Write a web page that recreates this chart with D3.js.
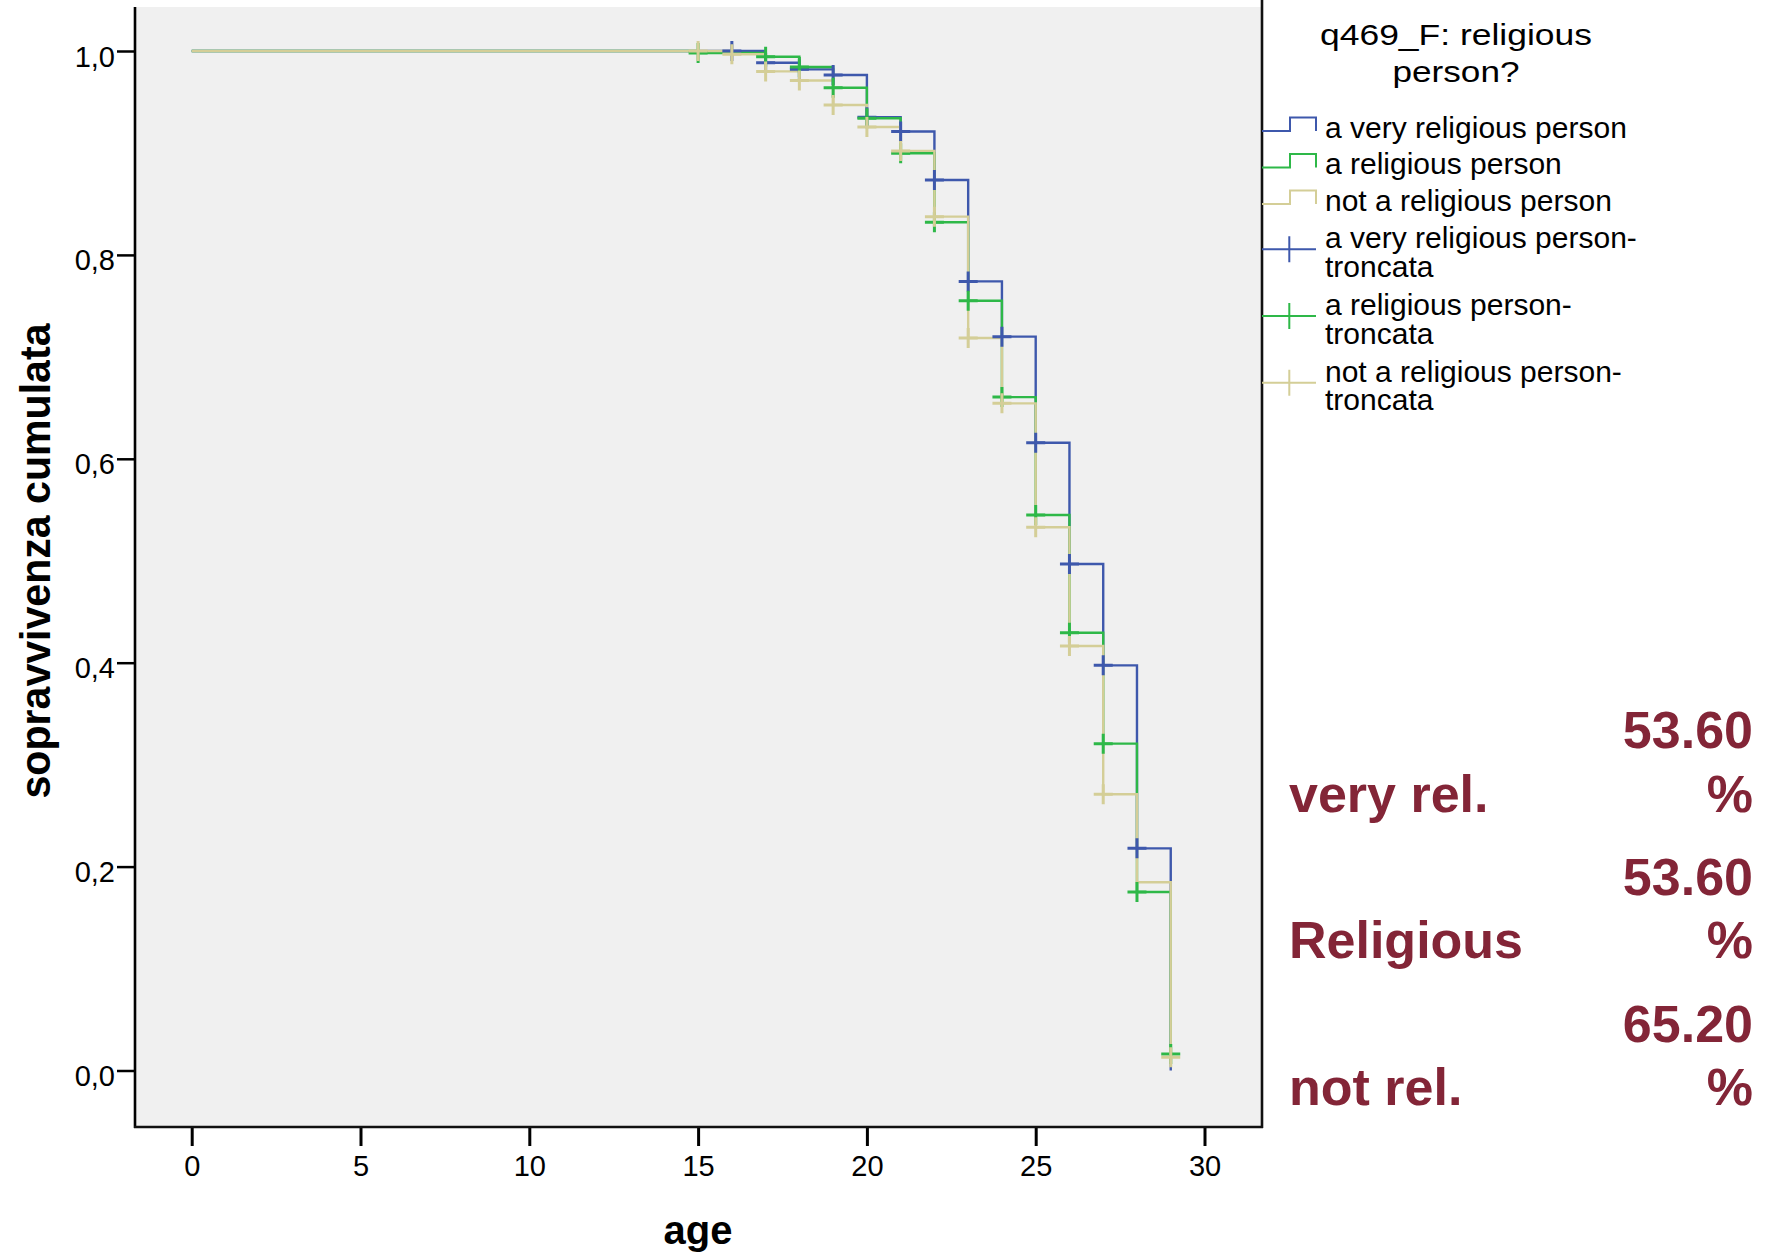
<!DOCTYPE html>
<html>
<head>
<meta charset="utf-8">
<script src="https://cdn.jsdelivr.net/npm/d3@7"></script>
<style>
  html, body { margin: 0; padding: 0; background: #ffffff; }
  svg { display: block; font-family: "Liberation Sans", Arial, Helvetica, sans-serif; }
</style>
</head>
<body>
<svg id="chart" width="1780" height="1254"></svg>
<script>
// Kaplan-Meier survival by religiosity (q469_F)
const ages = [0, 15, 16, 17, 18, 19, 20, 21, 22, 23, 24, 25, 26, 27, 28, 29];
const survVery = [1, 1, 1, 0.9885, 0.982, 0.9765, 0.935, 0.921, 0.8735, 0.774, 0.7198, 0.6158, 0.4968, 0.3974, 0.2179, 0.0];
const survRel  = [1, 0.998, 0.998, 0.9944, 0.9843, 0.964, 0.934, 0.8997, 0.832, 0.755, 0.6605, 0.5449, 0.4294, 0.3206, 0.1751, 0.0162];
const survNot  = [1, 1, 0.9968, 0.980, 0.971, 0.947, 0.9255, 0.902, 0.8375, 0.7185, 0.6544, 0.5328, 0.4164, 0.2709, 0.1846, 0.013];

// ages with censored cases (troncata) for each group
const censVery = [16, 17, 18, 19, 20, 21, 22, 23, 24, 25, 26, 27, 28];
const censRel  = [15, 17, 18, 19, 20, 21, 22, 23, 24, 25, 26, 27, 28, 29];
const censNot  = [15, 16, 17, 18, 19, 20, 21, 22, 23, 24, 25, 26, 27, 29];

const groupNames = ["a very religious person", "a religious person", "not a religious person"];
const groupColors = ["#3E58AC", "#2EB848", "#D4CE97"];
const legendTitle = ["q469_F: religious", "person?"];

const xTicks = [0, 5, 10, 15, 20, 25, 30];
const yTicks = [0, 0.2, 0.4, 0.6, 0.8, 1.0];

const noteLabels = ["very rel.", "Religious", "not rel."];
const notePercents = [53.60, 53.60, 65.20];

const series = [
  { name: groupNames[0], color: groupColors[0], surv: survVery, cens: censVery },
  { name: groupNames[1], color: groupColors[1], surv: survRel,  cens: censRel },
  { name: groupNames[2], color: groupColors[2], surv: survNot,  cens: censNot }
];

const svg = d3.select("#chart");

// plot frame
const frame = { left: 135, right: 1262, top: 7, bottom: 1127 };

const x = d3.scaleLinear().domain([0, 30]).range([191.7, 1204.5]);
const y = d3.scaleLinear().domain([0, 1]).range([1070.5, 51]);

svg.append("rect")
  .attr("x", frame.left).attr("y", frame.top)
  .attr("width", frame.right - frame.left).attr("height", frame.bottom - frame.top)
  .attr("fill", "#F0F0F0");

// step curves
const stepLine = d3.line()
  .x(d => x(d[0]))
  .y(d => y(d[1]))
  .curve(d3.curveStepAfter);

const plot = svg.append("g");

series.forEach(s => {
  const pts = ages.map((a, i) => [a, s.surv[i]]);
  plot.append("path")
    .attr("d", stepLine(pts))
    .attr("fill", "none")
    .attr("stroke", s.color)
    .attr("stroke-width", 2.4);
});

// censor marks
const crossW = 9.5, crossH = 10;
series.forEach(s => {
  const g = plot.append("g");
  s.cens.forEach(a => {
    const v = s.surv[ages.indexOf(a)];
    const cx = x(a), cy = y(v);
    g.append("path")
      .attr("d", `M${cx - crossW},${cy}H${cx + crossW}M${cx},${cy - crossH}V${cy + crossH}`)
      .attr("stroke", s.color)
      .attr("stroke-width", 3)
      .attr("fill", "none");
  });
});

// axes
const yAxis = d3.axisLeft(y)
  .tickValues(yTicks)
  .tickFormat(d => d3.format(".1f")(d).replace(".", ","))
  .tickSize(18)
  .tickPadding(2);

const gy = svg.append("g").attr("transform", `translate(${frame.left},0)`).call(yAxis);
gy.select(".domain").remove();
gy.selectAll(".tick line").attr("stroke", "#000").attr("stroke-width", 2.5);
gy.selectAll(".tick text")
  .attr("fill", "#000")
  .attr("font-size", 29)
  .attr("dy", "0.52em");

const xAxis = d3.axisBottom(x)
  .tickValues(xTicks)
  .tickFormat(d3.format("d"))
  .tickSize(19)
  .tickPadding(9.5);

const gx = svg.append("g").attr("transform", `translate(0,${frame.bottom})`).call(xAxis);
gx.select(".domain").remove();
gx.selectAll(".tick line").attr("stroke", "#000").attr("stroke-width", 3);
gx.selectAll(".tick text")
  .attr("fill", "#000")
  .attr("font-size", 29);

// frame lines
svg.append("line")
  .attr("x1", frame.left).attr("x2", frame.left)
  .attr("y1", frame.top).attr("y2", frame.bottom + 1)
  .attr("stroke", "#000").attr("stroke-width", 2.6);
svg.append("line")
  .attr("x1", frame.left - 1).attr("x2", frame.right + 1)
  .attr("y1", frame.bottom).attr("y2", frame.bottom)
  .attr("stroke", "#111").attr("stroke-width", 2.4);
svg.append("line")
  .attr("x1", frame.right).attr("x2", frame.right)
  .attr("y1", 0).attr("y2", frame.bottom + 1)
  .attr("stroke", "#111").attr("stroke-width", 2.6);

// axis titles
svg.append("text")
  .attr("transform", "translate(50,561) rotate(-90)")
  .attr("text-anchor", "middle")
  .attr("font-size", 42)
  .attr("font-weight", "bold")
  .attr("textLength", 475)
  .attr("lengthAdjust", "spacingAndGlyphs")
  .text("sopravvivenza cumulata");

svg.append("text")
  .attr("x", 698).attr("y", 1244)
  .attr("text-anchor", "middle")
  .attr("font-size", 40)
  .attr("font-weight", "bold")
  .text("age");

// legend
const legend = svg.append("g");
legend.selectAll("text.title")
  .data(legendTitle)
  .join("text")
  .attr("class", "title")
  .attr("x", 1456)
  .attr("y", (d, i) => 45 + i * 37)
  .attr("text-anchor", "middle")
  .attr("font-size", 30)
  .attr("textLength", (d, i) => i === 0 ? 272 : 127)
  .attr("lengthAdjust", "spacingAndGlyphs")
  .text(d => d);

const stepRows = [131, 167.5, 204];
series.forEach((s, i) => {
  const by = stepRows[i];
  legend.append("path")
    .attr("d", `M1262,${by}H1290V${by - 13.5}H1316V${by}`)
    .attr("fill", "none")
    .attr("stroke", s.color)
    .attr("stroke-width", 2);
  legend.append("text")
    .attr("x", 1325).attr("y", by + 6.5)
    .attr("font-size", 30)
    .text(s.name);
});

const crossRows = [249.3, 316, 382.7];
series.forEach((s, i) => {
  const cy = crossRows[i];
  legend.append("path")
    .attr("d", `M1262,${cy}H1316M1289.3,${cy - 13}V${cy + 13}`)
    .attr("fill", "none")
    .attr("stroke", s.color)
    .attr("stroke-width", 2);
  const t = legend.append("text")
    .attr("x", 1325).attr("y", cy - 1)
    .attr("font-size", 30);
  t.append("tspan").attr("x", 1325).text(s.name + "-");
  t.append("tspan").attr("x", 1325).attr("dy", 28.7).text("troncata");
});

// summary notes
const notes = svg.append("g").attr("fill", "#832537").attr("font-weight", "bold").attr("font-size", 52);
noteLabels.forEach((lab, i) => {
  const base = 748.3 + i * 146.7;
  notes.append("text")
    .attr("x", 1753).attr("y", base)
    .attr("text-anchor", "end")
    .text(notePercents[i].toFixed(2));
  notes.append("text")
    .attr("x", 1753).attr("y", base + 63.4)
    .attr("text-anchor", "end")
    .text("%");
  notes.append("text")
    .attr("x", 1289).attr("y", base + 63.4)
    .text(lab);
});
</script>
</body>
</html>
